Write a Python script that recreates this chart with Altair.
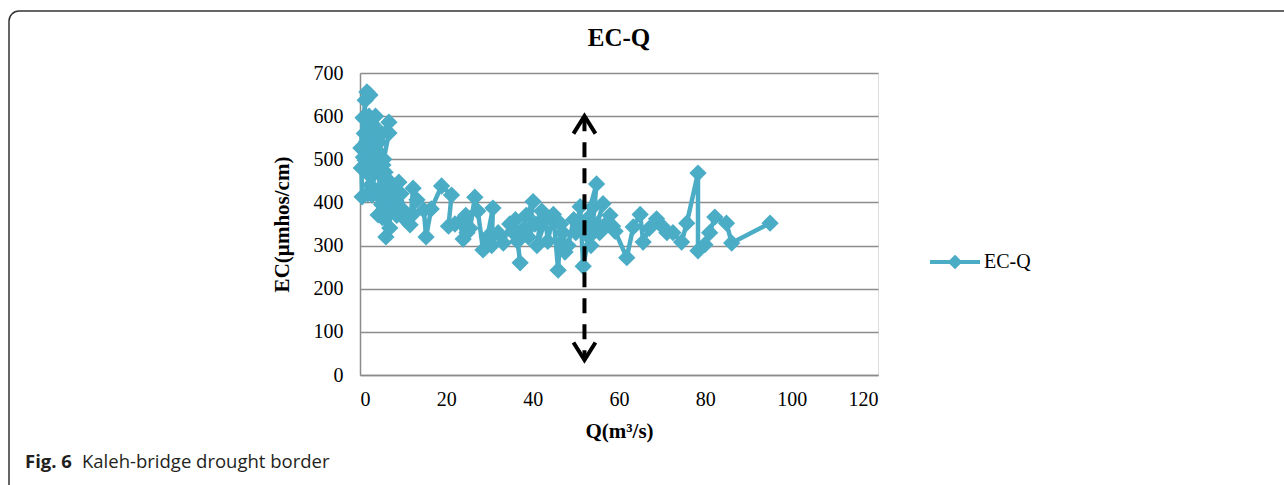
import altair as alt
import pandas as pd

# ---- data (in drawing order) ----
Q = [0.5, 0.2, 0.7, 1.6, 2.3, 1.2, 1.0, 0.3, 1.4, 0.8, 2.0, 2.8, 1.2, 1.5, 3.0,
     2.1, 3.5, 2.6, 2.5, 3.3, 4.2, 1.8, 3.2, 2.4, 4.6, 3.6, 5.3, 4.4, 4.0, 5.0,
     6.7, 6.7, 5.5, 6.7, 5.8, 5.5, 4.8, 4.2, 5.0, 6.2, 6.0, 6.9, 7.0, 7.2, 5.2,
     8.0, 7.8, 9.0, 8.2, 8.5, 9.5, 10.0, 10.5, 11.6, 12.3, 13.2, 12.0, 14.8, 15.3, 16.5,
     18.9, 21.2, 20.5, 22.0, 23.2, 23.9, 24.5, 24.8, 25.5, 26.6, 27.3, 28.5, 29.5, 30.8, 30.5,
     32.0, 33.2, 34.7, 35.5, 36.0, 37.1, 36.5, 38.0, 38.5, 40.1, 39.0, 40.5, 42.1, 41.0, 43.0,
     43.5, 44.8, 45.9, 46.5, 47.0, 47.5, 48.2, 49.5, 50.0, 51.0, 51.7, 53.0, 52.5, 54.8, 53.5,
     54.0, 56.3, 55.0, 55.5, 57.0, 57.9, 58.5, 59.1, 61.8, 63.3, 64.9, 65.6, 67.0, 68.7, 70.0,
     71.1, 72.5, 74.5, 75.7, 78.3, 78.3, 79.9, 81.0, 82.2, 84.9, 86.1, 95.0]
EC = [413, 526, 596, 656, 649, 637, 560, 480, 475, 505, 520, 417, 498, 540, 580,
      600, 545, 570, 460, 500, 475, 420, 430, 440, 429, 600, 487, 540, 520, 560,
      586, 561, 500, 406, 470, 440, 410, 371, 395, 455, 320, 341, 430, 394, 365,
      420, 380, 447, 400, 370, 420, 382, 360, 348, 433, 406, 370, 382, 320, 385,
      438, 417, 345, 350, 355, 315, 370, 330, 340, 412, 380, 290, 320, 387, 300,
      330, 306, 350, 330, 360, 260, 310, 340, 370, 402, 320, 350, 380, 300, 360,
      310, 372, 243, 350, 330, 285, 300, 360, 330, 390, 252, 320, 360, 443, 300,
      390, 397, 350, 330, 350, 370, 345, 333, 272, 343, 372, 308, 340, 362, 345,
      330, 330, 308, 352, 468, 288, 302, 330, 366, 352, 306, 352]
SERIES = "EC-Q"

X_TICKS = [0, 20, 40, 60, 80, 100, 120]
Y_TICKS = [0, 100, 200, 300, 400, 500, 600, 700]

# dashed double arrow (drought border)
ARROW_Q = [52.0]
ARROW_TOP = [600]
ARROW_BOTTOM = [35]
ARROW_HEAD_TOP = [580]
ARROW_HEAD_BOTTOM = [55]

TITLE = "EC-Q"
X_TITLE = "Q(m³/s)"
Y_TITLE = "EC(µmhos/cm)"
CAPTION_BOLD = "Fig. 6"
CAPTION_TEXT = "Kaleh-bridge drought border"

COLOR = "#4BACC6"
GRID = "#8c8c8c"
SERIF = "Liberation Serif"

df = pd.DataFrame({"Q": Q, "EC": EC, "idx": list(range(len(Q))), "series": SERIES})
arrow_df = pd.DataFrame({"Q": ARROW_Q, "EC": ARROW_TOP, "EC2": ARROW_BOTTOM})
head_top_df = pd.DataFrame({"Q": ARROW_Q, "EC": ARROW_HEAD_TOP})
head_bot_df = pd.DataFrame({"Q": ARROW_Q, "EC": ARROW_HEAD_BOTTOM})
one = pd.DataFrame({"a": [0]})

x_scale = alt.Scale(domain=[0, 120], nice=False, zero=False)
y_scale = alt.Scale(domain=[0, 700], nice=False)

x_axis = alt.Axis(values=X_TICKS, grid=False, ticks=False,
                  domainColor=GRID, domainWidth=1.5,
                  labelFont=SERIF, labelFontSize=20, labelColor="black",
                  labelPadding=14, titleFont=SERIF, titleFontSize=21,
                  titleFontWeight="bold", titleColor="black", titlePadding=11)
y_axis = alt.Axis(values=Y_TICKS, grid=True, gridColor=GRID, gridWidth=1.5,
                  ticks=False, domainColor=GRID, domainWidth=1.5,
                  labelFont=SERIF, labelFontSize=20, labelColor="black",
                  labelPadding=17, titleFont=SERIF, titleFontSize=21,
                  titleFontWeight="bold", titleColor="black", titlePadding=21)


def xenc():
    return alt.X("Q:Q", scale=x_scale, title=X_TITLE, axis=x_axis)


def yenc():
    return alt.Y("EC:Q", scale=y_scale, title=Y_TITLE, axis=y_axis)


legend_symbol = "M-1,0 L1,0 M0,-0.18 L0.18,0 L0,0.18 L-0.18,0 Z"

main = alt.Chart(df).mark_line(
    strokeWidth=4.5,
    point=alt.OverlayMarkDef(shape="diamond", size=300, filled=True, opacity=1),
).encode(
    x=xenc(),
    y=yenc(),
    order=alt.Order("idx:Q"),
    color=alt.Color("series:N", scale=alt.Scale(range=[COLOR]),
                    legend=alt.Legend(title=None, orient="none", legendX=568, legendY=162,
                                      symbolType=legend_symbol, symbolSize=2500,
                                      symbolStrokeWidth=4, symbolFillColor=COLOR,
                                      symbolStrokeColor=COLOR, symbolOpacity=1,
                                      labelFont=SERIF, labelFontSize=20,
                                      labelColor="black", labelOffset=2)),
)

arrow = alt.Chart(arrow_df).mark_rule(color="black", strokeWidth=4, strokeDash=[15, 11]).encode(
    x=xenc(), y=yenc(), y2=alt.Y2("EC2:Q", title=Y_TITLE),
)
head_up = alt.Chart(head_top_df).mark_point(
    shape="M-1,0.8 L0,-0.8 L1,0.8", size=484, filled=False, color="black",
    strokeWidth=4, opacity=1,
).encode(x=xenc(), y=yenc())
head_down = alt.Chart(head_bot_df).mark_point(
    shape="M-1,-0.8 L0,0.8 L1,-0.8", size=484, filled=False, color="black",
    strokeWidth=4, opacity=1,
).encode(x=xenc(), y=yenc())

border = alt.Chart(one).mark_rect(filled=False, color="#333333", strokeWidth=1.5,
                                  cornerRadius=10).encode(
    x=alt.value(-351), x2=alt.value(960), y=alt.value(-62), y2=alt.value(440))

title = alt.Chart(one).mark_text(text=TITLE, font=SERIF, fontSize=25, fontWeight="bold",
                                 color="black", align="center",
                                 baseline="alphabetic").encode(
    x=alt.value(259), y=alt.value(-27))

cap1 = alt.Chart(one).mark_text(text=CAPTION_BOLD, font="Open Sans", fontSize=18.5,
                                fontWeight="bold", color="#231f20", align="left",
                                baseline="alphabetic").encode(
    x=alt.value(-335), y=alt.value(395))
cap2 = alt.Chart(one).mark_text(text=CAPTION_TEXT, font="Open Sans", fontSize=18.5,
                                color="#231f20", align="left",
                                baseline="alphabetic").encode(
    x=alt.value(-278), y=alt.value(395))

chart = alt.layer(border, title, main, arrow, head_up, head_down, cap1, cap2).properties(
    width=518, height=302,
    autosize=alt.AutoSizeParams(type="none"),
    padding={"left": 360, "top": 73, "right": 406, "bottom": 112},
).configure_view(stroke="transparent").configure(background="white")

chart.save("out.html", embed_options={"renderer": "svg", "actions": False})
